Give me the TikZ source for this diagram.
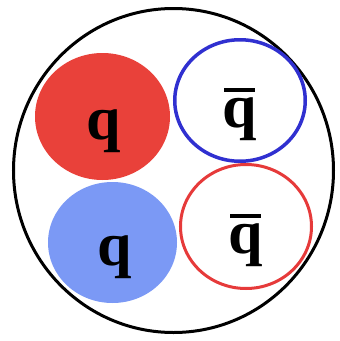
\documentclass[tikz,border=0pt]{standalone}
\usepackage{fontspec}
\setmainfont{Liberation Serif}
\usetikzlibrary{shapes.geometric}

\definecolor{qred}{RGB}{233,65,58}
\definecolor{qblue}{RGB}{123,153,245}
\definecolor{qbarblue}{RGB}{48,48,208}
\definecolor{qbarred}{RGB}{230,58,58}
\newcommand{\antiq}{\leavevmode\rlap{\hspace{0.03em}\raisebox{0.56em}{\rule{0.5em}{0.075em}}}q}

\begin{document}
\begin{tikzpicture}[x=1pt,y=-1pt,
  quark/.style={ellipse, inner sep=0},
  flav/.style={font=\fontsize{62}{62}\selectfont\bfseries, inner sep=0, anchor=base}]

  \useasboundingbox (0,0) rectangle (340,341);

  \node[ellipse, draw, line width=3, minimum width=320, minimum height=324]
  (meson) at (173.5,170.5) {};

  % quarks
  \node[quark, fill=qred, minimum width=135, minimum height=127] (q1) at (102.5,116.5) {};
  \node[quark, fill=qblue, minimum width=129, minimum height=121] (q2) at (112.5,242.5) {};
  % antiquarks
  \node[quark, draw=qbarblue, line width=3.5, minimum width=130.5, minimum height=121.5]
  (qb1) at (240,100.5) {};
  \node[quark, draw=qbarred, line width=3, minimum width=131, minimum height=124]
  (qb2) at (246,226.5) {};

  \node[flav] (q1lab) at (103.5,139) {q};
  \node[flav] (q2lab) at (114.5,265) {q};
  \node[flav] (qb1lab) at (239.5,127) {\antiq};
  \node[flav] (qb2lab) at (245.5,253) {\antiq};
\end{tikzpicture}
\end{document}
